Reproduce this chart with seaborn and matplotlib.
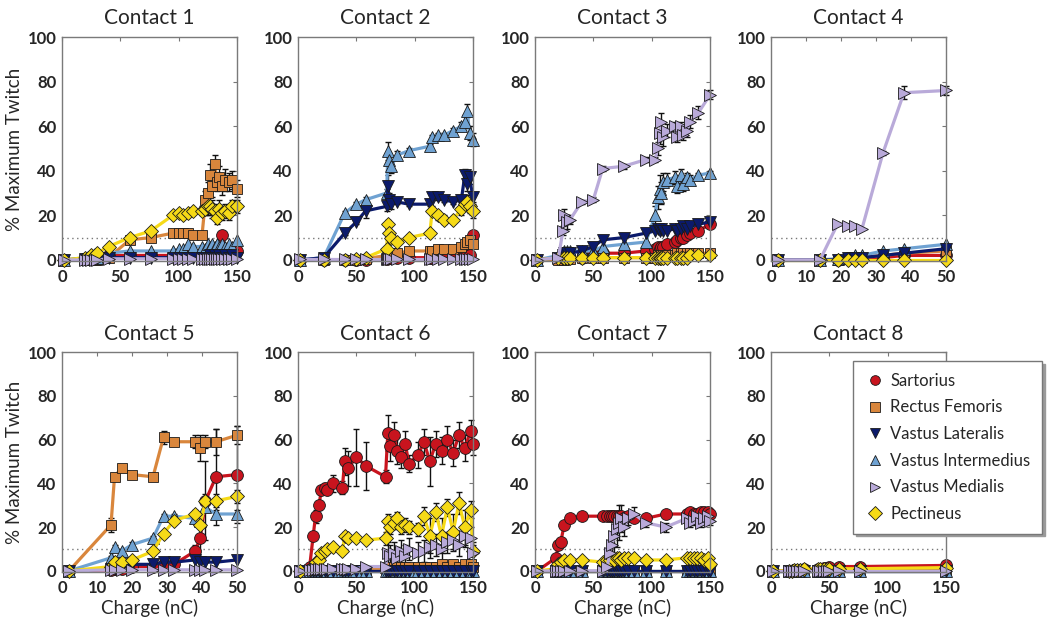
import numpy as np
import pandas as pd
import matplotlib
matplotlib.use("Agg")
import matplotlib.pyplot as plt
from matplotlib.lines import Line2D
import seaborn as sns

# ---------------- data ----------------
muscles = ["Sartorius", "Rectus Femoris", "Vastus Lateralis",
           "Vastus Intermedius", "Vastus Medialis", "Pectineus"]
titles = ["Contact 1", "Contact 2", "Contact 3", "Contact 4",
          "Contact 5", "Contact 6", "Contact 7", "Contact 8"]

# Contact 1
c1_x = [2, 20, 22, 25, 28, 30, 40, 58, 76, 95, 100, 104, 108, 112,
        120, 123, 125, 127, 129, 131, 133, 135, 137, 140, 143, 146, 150]
c1_sart = [0, 0.5, 0.5, 0.5, 1, 1, 2, 2, 2, 2, 2, 2, 2, 2,
           3, 3, 4, 4, 5, 4, 5, 4, 11, 5, 4, 5, 4]
c1_rf = [0, 0, 0, 0, 0, 0, 1, 9, 10, 12, 12, 12, 12, 11,
         11, 27, 30, 38, 33, 43, 35, 37, 33, 36, 35, 36, 32]
c1_rf_err = [0, 0, 0, 0, 0, 0, 0, 1, 1, 1, 1, 1, 1, 1,
             1, 4, 5, 5, 5, 4, 4, 5, 4, 5, 4, 4, 4]
c1_vl = [0, 0.5, 0.5, 0.5, 1, 1, 1, 1, 1, 1, 1, 1, 1, 1,
         1, 1, 1, 2, 1, 2, 1, 2, 1, 2, 1, 2, 1]
c1_vi = [0, 1, 1, 1, 1, 1, 3, 4, 4, 4, 5, 5, 7, 6,
         6, 5, 7, 6, 7, 6, 7, 6, 7, 6, 7, 6, 9]
c1_vm = [0, 0, 0, 0, 0, 0, 0.5, 0.5, 0.5, 0.5, 0.5, 0.5, 0.5, 0.5,
         0.5, 0.5, 0.5, 0.5, 0.5, 0.5, 0.5, 0.5, 0.5, 0.5, 0.5, 0.5, 0.5]
c1_pect = [0, 1, 1, 2, 2, 3, 6, 10, 13, 20, 21, 20, 21, 22,
           22, 23, 24, 24, 23, 22, 19, 23, 21, 22, 21, 24, 24]
c1_pect_err = [0, 0, 0, 0, 0, 0, 0, 0, 0, 1, 1, 1, 1, 1,
               2, 3, 4, 4, 4, 3, 3, 4, 3, 3, 3, 3, 3]

# Contact 2
c2_x = [2, 22, 40, 50, 58, 76, 77, 78, 80, 85, 95, 113, 115, 120, 125,
        133, 140, 143, 145, 147, 150]
c2_sart = [0, 0, 0, 0, 0, 0.5, 1, 1, 1, 1, 1, 1, 1, 2, 3,
           2, 3, 2, 3, 2, 11]
c2_rf = [0, 0, 0, 0, 0.5, 2, 3, 3, 3, 3, 4, 4, 4, 5, 5,
         5, 6, 7, 8, 9, 7]
c2_vl = [0, 1, 12, 17, 22, 24, 33, 27, 25, 26, 25, 25, 28, 28, 27,
         26, 27, 38, 34, 37, 28]
c2_vl_err = [0, 0, 1, 1, 3, 2, 5, 3, 2, 1, 1, 1, 1, 1, 1,
             1, 1, 3, 3, 3, 2]
c2_vi = [0, 1, 21, 25, 27, 30, 49, 45, 42, 47, 49, 51, 55, 56, 56,
         58, 60, 62, 67, 57, 54]
c2_vi_err = [0, 0, 1, 1, 1, 2, 4, 3, 3, 2, 1, 1, 1, 1, 1,
             1, 2, 3, 3, 3, 3]
c2_vm = [0.5, 0.5, 0.5, 0.5, 0.5, 0.5, 0.5, 0.5, 0.5, 0.5, 0.5, 0.5, 0.5,
         0.5, 0.5, 0.5, 0.5, 0.5, 0.5, 0.5, 0.5]
c2_pect = [0, 0, 0, 0.5, 1, 5, 16, 12, 10, 8, 10, 12, 22, 20, 18,
           18, 23, 25, 26, 24, 22]
c2_pect_err = [0, 0, 0, 0, 0, 0, 2, 2, 2, 1, 1, 1, 2, 2, 2,
               1, 3, 3, 3, 3, 3]

# Contact 3
c3_x = [2, 20, 24, 25, 27, 30, 40, 50, 58, 76, 95, 103, 105, 107, 108,
        110, 113, 120, 122, 125, 127, 130, 133, 140, 150]
c3_sart = [0, 0.5, 0.5, 0.5, 1, 1, 1, 3, 3, 3, 4, 5, 6, 5, 6,
           6, 7, 8, 9, 10, 10, 11, 12, 13, 16]
c3_rf = [0, 0, 0, 0, 0.5, 0.5, 1, 1, 1, 1, 1, 1, 2, 2, 2,
         2, 2, 2, 3, 3, 3, 3, 3, 3, 3]
c3_vl = [0, 1, 2, 3, 3, 3, 4, 6, 9, 10, 12, 13, 14, 13, 14,
         13, 13, 14, 13, 14, 15, 14, 15, 16, 17]
c3_vi = [0, 2, 3, 4, 4, 4, 4, 4, 6, 7, 8, 20, 28, 32, 30,
         35, 36, 37, 33, 38, 34, 37, 36, 38, 39]
c3_vi_err = [0, 0, 1, 1, 1, 1, 0, 0, 0, 0, 0, 4, 5, 6, 5,
             4, 3, 3, 3, 3, 3, 2, 2, 1, 1]
c3_vm = [0, 1, 13, 20, 17, 18, 26, 27, 41, 42, 45, 45, 50, 57, 62,
         55, 58, 60, 55, 60, 56, 58, 62, 66, 74]
c3_vm_err = [0, 0, 2, 3, 3, 2, 1, 1, 1, 1, 1, 1, 3, 5, 4,
             4, 3, 2, 2, 2, 2, 3, 3, 3, 2]
c3_pect = [0, 1, 1, 1, 1, 1, 1, 1, 1, 1, 1, 1, 1, 1, 1,
           1, 1, 1, 1, 1, 1, 1, 2, 2, 2]

# Contact 4
c4_x = [2, 14, 19, 22, 24, 26, 32, 38, 50]
c4_sart = [0, 0, 0, 1, 1, 1, 1, 2, 2]
c4_rf = [0, 0, 0, 1, 1, 1, 2, 3, 4]
c4_vl = [0, 0, 0, 1, 1, 1, 2, 3, 5]
c4_vi = [0, 0, 0.5, 1, 2, 2, 4, 5, 7]
c4_vm = [0, 0, 16, 15, 15, 14, 48, 75, 76]
c4_vm_err = [0, 0, 0, 0, 0, 0, 1, 3, 2]
c4_pect = [0, 0, 0, 0, 0, 0, 0, 0, 0]

# Contact 5
c5_x = [2, 14, 15, 17, 20, 26, 29, 32, 38, 39.5, 41, 44, 50]
c5_sart = [0, 0.5, 1, 1, 2, 2, 3, 3, 9, 15, 32, 43, 44]
c5_sart_err = [0, 0, 0, 0, 0, 0, 0, 0, 3, 10, 18, 22, 22]
c5_rf = [0, 21, 43, 47, 44, 43, 61, 59, 59, 56, 59, 59, 62]
c5_rf_err = [0, 3, 1, 1, 1, 1, 3, 1, 3, 6, 3, 6, 4]
c5_vl = [0, 1, 1, 2, 3, 3, 4, 4, 5, 4, 4, 4, 5]
c5_vi = [0, 6, 11, 9, 12, 15, 25, 25, 24, 23, 29, 26, 26]
c5_vi_err = [0, 1, 1, 1, 1, 1, 1, 1, 1, 2, 2, 2, 2]
c5_vm = [0, 0.5, 0.5, 0.5, 0.5, 0.5, 0.5, 0.5, 0.5, 0.5, 0.5, 0.5, 0.5]
c5_pect = [0, 2, 4, 4, 5, 9, 17, 23, 26, 21, 32, 32, 34]
c5_pect_err = [0, 0, 0, 0, 1, 1, 1, 1, 2, 5, 3, 3, 3]

# Contact 6
c6_x = [2, 10, 13, 15, 18, 20, 23, 25, 30,
        38, 40, 43, 50, 58,
        75, 77, 79, 82, 85, 88, 92, 95,
        103, 108, 113, 118, 123, 128, 133, 138, 143, 148, 150]
c6_sart = [0, 2, 16, 25, 30, 37, 38, 37, 40,
           38, 50, 47, 52, 48,
           43, 63, 57, 62, 55, 52, 58, 49,
           53, 59, 50, 58, 55, 60, 54, 62, 56, 64, 58]
c6_sart_err = [0, 0, 1, 3, 2, 2, 2, 2, 4,
               3, 6, 8, 13, 11,
               3, 8, 7, 6, 6, 5, 6, 4,
               6, 6, 11, 6, 6, 6, 6, 6, 6, 5, 5]
c6_rf = [0, 0, 0, 0, 0, 0, 0, 0, 0,
         0, 0, 0, 0.5, 0.5,
         1, 2, 2, 2, 2, 2, 2, 2,
         2, 2, 2, 2, 3, 2, 3, 2, 3, 3, 2]
c6_vl = [0, 0, 0, 0, 0, 0, 0, 0, 0,
         0, 0, 0, 0, 0,
         0, 0, 0, 0, 0, 0, 0, 0,
         0, 0, 0, 0, 0, 0, 0, 0, 0, 0, 0]
c6_vi = [0, 0, 0, 0, 0, 0, 0, 0, 0,
         0, 0, 0, 0, 0,
         0, 0, 0, 0, 0, 0, 0, 0,
         0, 0, 0, 0, 0, 0, 0, 0, 0, 0, 0]
c6_vm = [0, 0.5, 0.5, 1, 1, 1, 1, 1, 1,
         1, 1, 1, 1, 2,
         2, 8, 7, 8, 6, 9, 7, 10,
         8, 9, 11, 12, 10, 13, 14, 12, 16, 15, 8]
c6_vm_err = [0, 0, 0, 0, 0, 0, 0, 0, 0,
             0, 0, 0, 0, 0,
             1, 5, 5, 5, 5, 5, 5, 5,
             5, 5, 5, 5, 5, 5, 5, 5, 5, 5, 4]
c6_pect = [0, 1, 2, 4, 5, 8, 9, 10, 11,
           9, 16, 15, 15, 14,
           15, 23, 20, 22, 24, 20, 21, 20,
           19, 25, 16, 27, 16, 29, 18, 31, 20, 28, 9]
c6_pect_err = [0, 0, 0, 0, 0, 0, 0, 0, 0,
               1, 2, 1, 1, 1,
               3, 3, 3, 3, 3, 3, 3, 3,
               3, 4, 8, 4, 8, 4, 8, 5, 8, 4, 4]

# Contact 7
c7_x = [2, 18, 20, 22, 25, 30, 40,
        58, 62, 64, 66, 68, 70, 72, 74, 76,
        80, 85, 95, 112,
        130, 133, 136, 139, 142, 145, 148, 150]
c7_sart = [0, 6, 12, 13, 21, 24, 25,
           25, 25, 25, 25, 25, 25, 25, 25, 24,
           25, 24, 24, 26,
           26, 27, 26, 26, 27, 27, 27, 26]
c7_rf = [0, 0, 0, 0, 0, 0, 0,
         0, 0, 0, 0, 0, 0, 0, 0, 0,
         0, 0, 0, 0,
         0, 0, 0, 0, 0, 0, 0, 0]
c7_vl = [0, 0, 0, 0, 0, 0, 0,
         0, 0, 0, 0, 0, 0, 0, 0, 0,
         0, 0, 0, 0,
         0, 0, 0, 0, 0, 0, 0, 0]
c7_vi = [0, 0, 0, 0, 0, 0, 0,
         0, 0, 0, 0, 0, 0, 0, 0, 0,
         0, 0, 0, 0,
         0, 0, 0, 0, 0, 0, 0, 0]
c7_vm = [0, 0, 0, 0, 0, 0, 0,
         0, 2, 8, 12, 16, 19, 22, 24, 20,
         24, 26, 22, 20,
         24, 22, 23, 25, 22, 24, 25, 23]
c7_vm_err = [0, 0, 0, 0, 0, 0, 0,
             0, 2, 5, 6, 8, 8, 8, 6, 4,
             3, 3, 2, 2,
             2, 2, 2, 2, 2, 2, 2, 2]
c7_pect = [0, 1, 3, 4, 5, 5, 5,
           4, 5, 5, 6, 5, 6, 6, 5, 6,
           6, 6, 5, 5,
           6, 6, 6, 6, 6, 5, 6, 3]

# Contact 8
c8_x = [2, 15, 18, 20, 22, 25, 28, 40, 42, 45, 48, 50, 58, 76, 150]
c8_sart = [0, 0, 0, 0.5, 0.5, 0.5, 1, 1, 1, 1.5, 1.5, 2, 2, 2, 2.5]
c8_rf = [0, 0, 0, 0, 0, 0, 0, 0.5, 0.5, 0.5, 0.5, 0.5, 0.5, 0.5, 0.5]
c8_vl = [0, 0, 0, 0, 0, 0, 0, 0, 0, 0, 0, 0, 0, 0, 0]
c8_vi = [0, 0, 0, 0, 0, 0, 0, 0, 0, 0, 0, 0, 0, 0, 0]
c8_vm = [0, 0, 0, 0, 0, 0, 0, 0, 0, 0, 0, 0, 0, 0, 0]
c8_pect = [0, 0, 0, 0.5, 0.5, 0.5, 1, 1, 1, 1, 1, 1, 1, 1, 1.5]

x_ticks_long = [0, 50, 100, 150]
x_ticks_short = [0, 10, 20, 30, 40, 50]
y_ticks = [0, 20, 40, 60, 80, 100]
threshold = 10

# ---------------- style ----------------
colors = {"Sartorius": "#C8141E", "Rectus Femoris": "#D9863C",
          "Vastus Lateralis": "#0B1A6B", "Vastus Intermedius": "#6FA2D2",
          "Vastus Medialis": "#B9AAD9", "Pectineus": "#F6DA17"}
markers = {"Sartorius": "o", "Rectus Femoris": "s", "Vastus Lateralis": "v",
           "Vastus Intermedius": "^", "Vastus Medialis": ">", "Pectineus": "D"}
msizes = {"Sartorius": 8.5, "Rectus Femoris": 7.5, "Vastus Lateralis": 9,
          "Vastus Intermedius": 9, "Vastus Medialis": 9, "Pectineus": 7.5}
# drawing order (later on top)
draw_order = ["Sartorius", "Rectus Femoris", "Vastus Intermedius",
              "Vastus Lateralis", "Pectineus", "Vastus Medialis"]

sns.set_style("white")
plt.rcParams["font.family"] = ["Lato", "DejaVu Sans"]

panels = [
    (c1_x, [c1_sart, c1_rf, c1_vl, c1_vi, c1_vm, c1_pect],
     {"Rectus Femoris": c1_rf_err, "Pectineus": c1_pect_err}),
    (c2_x, [c2_sart, c2_rf, c2_vl, c2_vi, c2_vm, c2_pect],
     {"Vastus Lateralis": c2_vl_err, "Vastus Intermedius": c2_vi_err,
      "Pectineus": c2_pect_err}),
    (c3_x, [c3_sart, c3_rf, c3_vl, c3_vi, c3_vm, c3_pect],
     {"Vastus Intermedius": c3_vi_err, "Vastus Medialis": c3_vm_err}),
    (c4_x, [c4_sart, c4_rf, c4_vl, c4_vi, c4_vm, c4_pect],
     {"Vastus Medialis": c4_vm_err}),
    (c5_x, [c5_sart, c5_rf, c5_vl, c5_vi, c5_vm, c5_pect],
     {"Sartorius": c5_sart_err, "Rectus Femoris": c5_rf_err,
      "Vastus Intermedius": c5_vi_err, "Pectineus": c5_pect_err}),
    (c6_x, [c6_sart, c6_rf, c6_vl, c6_vi, c6_vm, c6_pect],
     {"Sartorius": c6_sart_err, "Vastus Medialis": c6_vm_err,
      "Pectineus": c6_pect_err}),
    (c7_x, [c7_sart, c7_rf, c7_vl, c7_vi, c7_vm, c7_pect],
     {"Vastus Medialis": c7_vm_err}),
    (c8_x, [c8_sart, c8_rf, c8_vl, c8_vi, c8_vm, c8_pect], {}),
]
short_panels = {3, 4}

fig = plt.figure(figsize=(10.5, 6.22), dpi=100)
W, H = 1050.0, 622.0
lefts = [62, 298, 535, 771]
rows = [(37, 261), (352, 572)]
aw = 175

for i, (xs, ys, errs) in enumerate(panels):
    r, c = divmod(i, 4)
    top, bot = rows[r]
    ax = fig.add_axes([lefts[c] / W, 1 - bot / H, aw / W, (bot - top) / H])
    frames = []
    for m, yv in zip(muscles, ys):
        frames.append(pd.DataFrame({"Charge": xs, "Twitch": yv, "Muscle": m}))
    df = pd.concat(frames, ignore_index=True)

    # error bars beneath markers
    for m in muscles:
        if m in errs:
            yv = ys[muscles.index(m)]
            ax.errorbar(xs, yv, yerr=errs[m], fmt="none", ecolor="#111111",
                        elinewidth=1.0, capsize=2, capthick=1.0, zorder=1.5,
                        clip_on=False)

    for m in draw_order:
        sub = df[df["Muscle"] == m]
        sns.lineplot(data=sub, x="Charge", y="Twitch", color=colors[m],
                     marker=markers[m], markersize=msizes[m],
                     markeredgecolor="#1a1a1a", markeredgewidth=0.6,
                     linewidth=2.3, sort=False, estimator=None, ax=ax,
                     clip_on=False, zorder=2)

    ax.axhline(threshold, color="#777777", ls=(0, (1, 2.5)), lw=1.0, zorder=1)
    if i in short_panels:
        ax.set_xlim(0, 50)
        ax.set_xticks(x_ticks_short)
    else:
        ax.set_xlim(0, 150)
        ax.set_xticks(x_ticks_long)
    ax.set_ylim(-0.5, 100)
    ax.set_yticks(y_ticks)
    ax.tick_params(direction="in", length=3, width=0.8, color="#777777",
                   top=True, right=True, labelsize=12, pad=4)
    ax.tick_params(axis="x", pad=6)
    for lbl in ax.get_xticklabels() + ax.get_yticklabels():
        lbl.set_fontweight("bold")
    for s in ax.spines.values():
        s.set_color("#7a7a7a")
        s.set_linewidth(1.0)
    ax.set_title(titles[i], fontsize=15, pad=9)
    ax.set_xlabel("Charge (nC)" if r == 1 else "", fontsize=13.5, labelpad=2)
    ax.set_ylabel("% Maximum Twitch" if c == 0 else "", fontsize=13.5,
                  labelpad=3)

handles = [Line2D([], [], linestyle="none", marker=markers[m],
                  markerfacecolor=colors[m], markeredgecolor="#1a1a1a",
                  markeredgewidth=0.6, markersize=7) for m in muscles]
leg = fig.legend(handles, muscles, loc="upper left",
                 bbox_to_anchor=(853 / W, 1 - 361 / H), frameon=True,
                 fancybox=False, shadow={"color": "#9a9a9a", "alpha": 1.0},
                 edgecolor="#777777", fontsize=12, labelspacing=0.64,
                 handletextpad=0.35, handlelength=1.2, borderpad=0.7,
                 borderaxespad=0)
leg.get_frame().set_linewidth(1.0)
leg.get_frame().set_facecolor("white")

fig.savefig("out.png", dpi=100, facecolor="white")
